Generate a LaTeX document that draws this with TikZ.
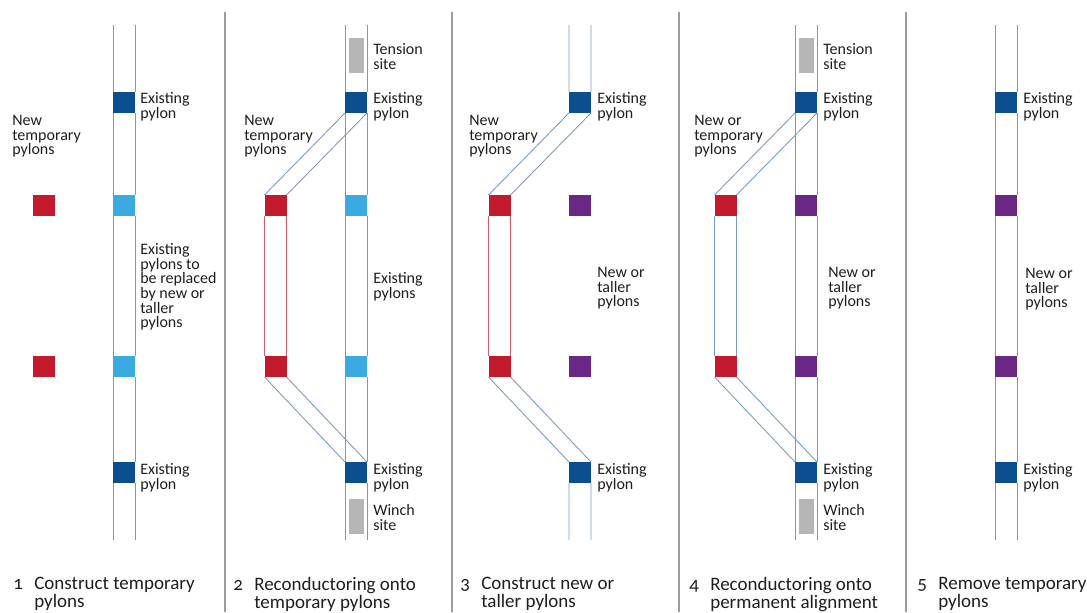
\documentclass[tikz,border=0pt]{standalone}
\usepackage{fontspec}
\setmainfont[Numbers=OldStyle]{Carlito}
\usetikzlibrary{positioning}

\newlength{\du}
\setlength{\du}{0.7pt}

\definecolor{existingblue}{RGB}{11,79,145}
\definecolor{oldblue}{RGB}{59,170,225}
\definecolor{tempred}{RGB}{196,26,46}
\definecolor{newpurple}{RGB}{106,39,134}
\definecolor{sitegrey}{RGB}{182,182,182}
\definecolor{wireblue}{RGB}{118,155,195}
\definecolor{wirered}{RGB}{208,96,108}
\definecolor{textgrey}{RGB}{30,30,30}
\definecolor{dividergrey}{RGB}{155,155,155}

\tikzset{
  pylon/.style={rectangle, inner sep=0pt, outer sep=0pt, minimum width=22\du, minimum height=21\du},
  existing/.style={pylon, fill=existingblue},
  oldpylon/.style={pylon, fill=oldblue},
  temppylon/.style={pylon, fill=tempred},
  newpylon/.style={pylon, fill=newpurple},
  site/.style={rectangle, inner sep=0pt, minimum width=15\du, minimum height=35\du, fill=sitegrey},
  wire/.style={draw=wireblue, line width=0.6pt},
  redwire/.style={draw=wirered, line width=0.6pt},
  pylontext/.style={anchor=north west, inner sep=0pt, align=left, text=textgrey, font=\fontsize{11.2}{10.3}\selectfont},
  steptext/.style={anchor=north west, inner sep=0pt, align=left, text=textgrey, font=\fontsize{13.3}{12.4}\selectfont},
  divider/.style={draw=dividergrey, line width=1.4pt},
}

\begin{document}
\begin{tikzpicture}
\pgftransformyscale{-1.000000}
\useasboundingbox (0\du,0\du) rectangle (1087\du,612\du);

% dividers between the steps
\foreach \x in {225,452,679,906}
  \draw[divider] (\x\du,12\du) -- (\x\du,612\du);

% step 1
\node[existing] (ex1a) at (124\du,102.5\du) {};
\node[oldpylon] (old1a) at (124\du,205.5\du) {};
\node[oldpylon] (old1b) at (124\du,366.5\du) {};
\node[existing] (ex1b) at (124\du,472.5\du) {};
\node[temppylon] (tmp1a) at (43.5\du,205.5\du) {};
\node[temppylon] (tmp1b) at (43.5\du,366.5\du) {};
\coordinate (top1w) at (113\du,25\du);
\coordinate (top1e) at (135\du,25\du);
\coordinate (bot1w) at (113\du,540\du);
\coordinate (bot1e) at (135\du,540\du);
\draw[wire] (top1w) -- (ex1a.north west) (ex1a.south west) -- (old1a.north west)
  (old1a.south west) -- (old1b.north west) (old1b.south west) -- (ex1b.north west)
  (ex1b.south west) -- (bot1w);
\draw[wire] (top1e) -- (ex1a.north east) (ex1a.south east) -- (old1a.north east)
  (old1a.south east) -- (old1b.north east) (old1b.south east) -- (ex1b.north east)
  (ex1b.south east) -- (bot1e);
\node[pylontext] (t1a) at (140\du,92\du) {Existing\\pylon};
\node[pylontext] (t1b) at (12\du,115\du) {New\\temporary\\pylons};
\node[pylontext] (t1c) at (140\du,243\du) {Existing\\pylons to\\be replaced\\by new or\\taller\\pylons};
\node[pylontext] (t1d) at (140\du,463\du) {Existing\\pylon};
\node[steptext] (s1) at (13\du,577\du) {\makebox[21\du][l]{1}Construct temporary\\\hspace*{21\du}pylons};

% step 2
\node[site] (tension2) at (356\du,55.5\du) {};
\node[existing] (ex2a) at (356\du,102.5\du) {};
\node[oldpylon] (old2a) at (356\du,205.5\du) {};
\node[oldpylon] (old2b) at (356\du,366.5\du) {};
\node[existing] (ex2b) at (356\du,472.5\du) {};
\node[site] (winch2) at (356\du,516.5\du) {};
\node[temppylon] (tmp2a) at (275.5\du,205.5\du) {};
\node[temppylon] (tmp2b) at (275.5\du,366.5\du) {};
\coordinate (top2w) at (345\du,25\du);
\coordinate (top2e) at (367\du,25\du);
\coordinate (bot2w) at (345\du,540\du);
\coordinate (bot2e) at (367\du,540\du);
\draw[wire] (top2w) -- (ex2a.north west) (ex2a.south west) -- (old2a.north west)
  (old2a.south west) -- (old2b.north west) (old2b.south west) -- (ex2b.north west)
  (ex2b.south west) -- (bot2w);
\draw[wire] (top2e) -- (ex2a.north east) (ex2a.south east) -- (old2a.north east)
  (old2a.south east) -- (old2b.north east) (old2b.south east) -- (ex2b.north east)
  (ex2b.south east) -- (bot2e);
\draw[wire] (tmp2a.north west) -- (ex2a.south west) (tmp2a.north east) -- (ex2a.south east);
\draw[wire] (tmp2b.south west) -- (ex2b.north west) (tmp2b.south east) -- (ex2b.north east);
\draw[redwire] (tmp2a.south west) -- (tmp2b.north west) (tmp2a.south east) -- (tmp2b.north east);
\node[pylontext] (t2a) at (373\du,43\du) {Tension\\site};
\node[pylontext] (t2b) at (373\du,92\du) {Existing\\pylon};
\node[pylontext] (t2c) at (244\du,115\du) {New\\temporary\\pylons};
\node[pylontext] (t2d) at (373\du,272\du) {Existing\\pylons};
\node[pylontext] (t2e) at (373\du,463\du) {Existing\\pylon};
\node[pylontext] (t2f) at (373\du,504\du) {Winch\\site};
\node[steptext] (s2) at (233\du,577\du) {\makebox[21\du][l]{2}Reconductoring onto\\\hspace*{21\du}temporary pylons};

% step 3
\node[existing] (ex3a) at (580\du,102.5\du) {};
\node[newpylon] (new3a) at (580\du,205.5\du) {};
\node[newpylon] (new3b) at (580\du,366.5\du) {};
\node[existing] (ex3b) at (580\du,472.5\du) {};
\node[temppylon] (tmp3a) at (499.5\du,205.5\du) {};
\node[temppylon] (tmp3b) at (499.5\du,366.5\du) {};
\coordinate (top3w) at (569\du,25\du);
\coordinate (top3e) at (591\du,25\du);
\coordinate (bot3w) at (569\du,540\du);
\coordinate (bot3e) at (591\du,540\du);
\draw[wire] (top3w) -- (ex3a.north west) (ex3a.south west) -- (tmp3a.north west)
  (tmp3b.south west) -- (ex3b.north west) (ex3b.south west) -- (bot3w);
\draw[wire] (top3e) -- (ex3a.north east) (ex3a.south east) -- (tmp3a.north east)
  (tmp3b.south east) -- (ex3b.north east) (ex3b.south east) -- (bot3e);
\draw[redwire] (tmp3a.south west) -- (tmp3b.north west) (tmp3a.south east) -- (tmp3b.north east);
\node[pylontext] (t3a) at (597\du,92\du) {Existing\\pylon};
\node[pylontext] (t3b) at (469\du,115\du) {New\\temporary\\pylons};
\node[pylontext] (t3c) at (597\du,267\du) {New or\\taller\\pylons};
\node[pylontext] (t3d) at (597\du,463\du) {Existing\\pylon};
\node[steptext] (s3) at (460\du,577\du) {\makebox[21\du][l]{3}Construct new or\\\hspace*{21\du}taller pylons};

% step 4
\node[site] (tension4) at (806\du,55.5\du) {};
\node[existing] (ex4a) at (806\du,102.5\du) {};
\node[newpylon] (new4a) at (806\du,205.5\du) {};
\node[newpylon] (new4b) at (806\du,366.5\du) {};
\node[existing] (ex4b) at (806\du,472.5\du) {};
\node[site] (winch4) at (806\du,516.5\du) {};
\node[temppylon] (tmp4a) at (725.5\du,205.5\du) {};
\node[temppylon] (tmp4b) at (725.5\du,366.5\du) {};
\coordinate (top4w) at (795\du,25\du);
\coordinate (top4e) at (817\du,25\du);
\coordinate (bot4w) at (795\du,540\du);
\coordinate (bot4e) at (817\du,540\du);
\draw[wire] (top4w) -- (ex4a.north west) (ex4a.south west) -- (new4a.north west)
  (new4a.south west) -- (new4b.north west) (new4b.south west) -- (ex4b.north west)
  (ex4b.south west) -- (bot4w);
\draw[wire] (top4e) -- (ex4a.north east) (ex4a.south east) -- (new4a.north east)
  (new4a.south east) -- (new4b.north east) (new4b.south east) -- (ex4b.north east)
  (ex4b.south east) -- (bot4e);
\draw[wire] (tmp4a.north west) -- (ex4a.south west) (tmp4a.north east) -- (ex4a.south east);
\draw[wire] (tmp4a.south west) -- (tmp4b.north west) (tmp4a.south east) -- (tmp4b.north east);
\draw[wire] (tmp4b.south west) -- (ex4b.north west) (tmp4b.south east) -- (ex4b.north east);
\node[pylontext] (t4a) at (823\du,43\du) {Tension\\site};
\node[pylontext] (t4b) at (823\du,92\du) {Existing\\pylon};
\node[pylontext] (t4c) at (694\du,115\du) {New or\\temporary\\pylons};
\node[pylontext] (t4d) at (828\du,267\du) {New or\\taller\\pylons};
\node[pylontext] (t4e) at (823\du,463\du) {Existing\\pylon};
\node[pylontext] (t4f) at (823\du,504\du) {Winch\\site};
\node[steptext] (s4) at (689\du,577\du) {\makebox[21\du][l]{4}Reconductoring onto\\\hspace*{21\du}permanent alignment};

% step 5
\node[existing] (ex5a) at (1006\du,102.5\du) {};
\node[newpylon] (new5a) at (1006\du,205.5\du) {};
\node[newpylon] (new5b) at (1006\du,366.5\du) {};
\node[existing] (ex5b) at (1006\du,472.5\du) {};
\coordinate (top5w) at (995\du,25\du);
\coordinate (top5e) at (1017\du,25\du);
\coordinate (bot5w) at (995\du,540\du);
\coordinate (bot5e) at (1017\du,540\du);
\draw[wire] (top5w) -- (ex5a.north west) (ex5a.south west) -- (new5a.north west)
  (new5a.south west) -- (new5b.north west) (new5b.south west) -- (ex5b.north west)
  (ex5b.south west) -- (bot5w);
\draw[wire] (top5e) -- (ex5a.north east) (ex5a.south east) -- (new5a.north east)
  (new5a.south east) -- (new5b.north east) (new5b.south east) -- (ex5b.north east)
  (ex5b.south east) -- (bot5e);
\node[pylontext] (t5a) at (1023\du,92\du) {Existing\\pylon};
\node[pylontext] (t5b) at (1025\du,268\du) {New or\\taller\\pylons};
\node[pylontext] (t5c) at (1023\du,463\du) {Existing\\pylon};
\node[steptext] (s5) at (917\du,577\du) {\makebox[21\du][l]{5}Remove temporary\\\hspace*{21\du}pylons};
\end{tikzpicture}
\end{document}
